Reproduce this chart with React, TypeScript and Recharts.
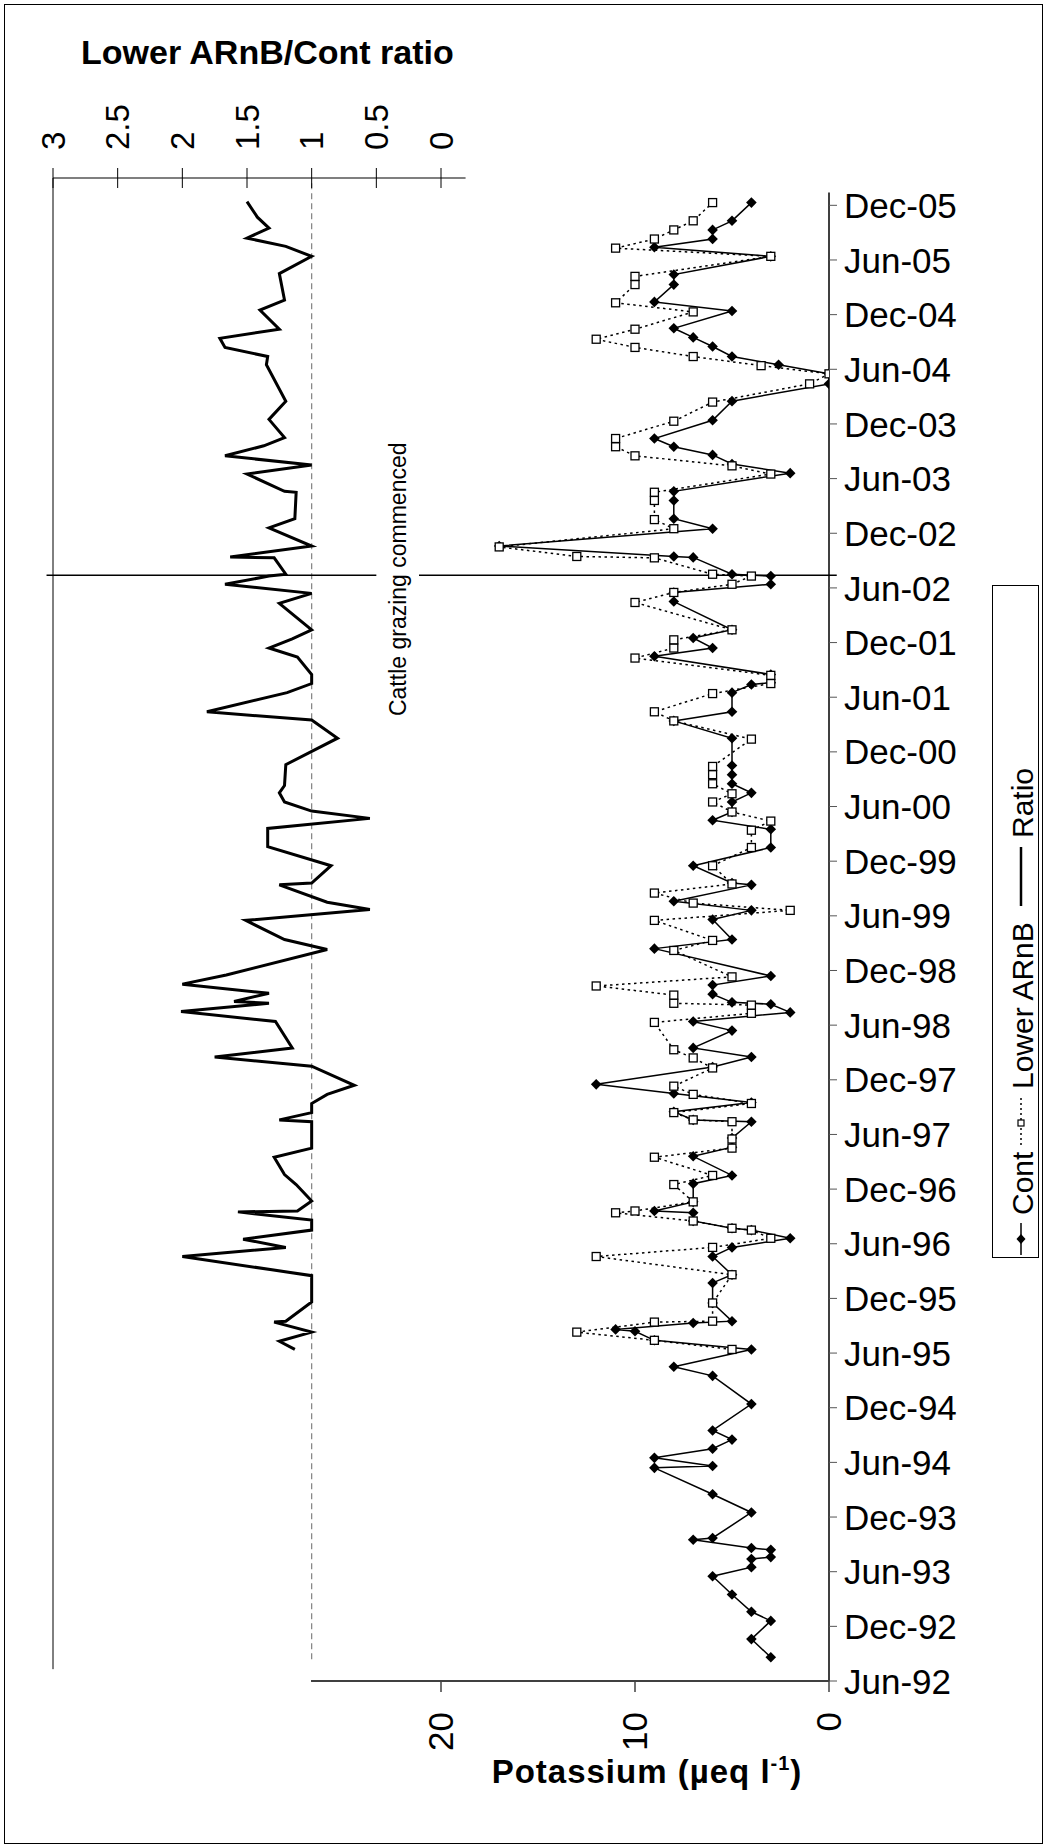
import React from 'react';
import {
  ComposedChart,
  Line,
  XAxis,
  YAxis,
  ReferenceLine,
  ReferenceDot,
  Legend,
  Label,
} from 'recharts';

const FONT = '"Liberation Sans", Arial, Helvetica, sans-serif';

// Time is counted in months after June 1992.
const timeTicks = [
  0, 6, 12, 18, 24, 30, 36, 42, 48, 54, 60, 66, 72, 78, 84, 90, 96, 102, 108, 114, 120, 126, 132, 138,
  144, 150, 156, 162,
];
const timeTickLabels = [
  'Jun-92', 'Dec-92', 'Jun-93', 'Dec-93', 'Jun-94', 'Dec-94', 'Jun-95', 'Dec-95', 'Jun-96', 'Dec-96',
  'Jun-97', 'Dec-97', 'Jun-98', 'Dec-98', 'Jun-99', 'Dec-99', 'Jun-00', 'Dec-00', 'Jun-01', 'Dec-01',
  'Jun-02', 'Dec-02', 'Jun-03', 'Dec-03', 'Jun-04', 'Dec-04', 'Jun-05', 'Dec-05',
];
const potassiumTicks = [0, 10, 20];
const ratioTicks = [3, 2.5, 2, 1.5, 1, 0.5, 0];

const legendNames = ['Cont', 'Lower ARnB', 'Ratio'];
const grazingMonth = 121.4;
const grazingText = 'Cattle grazing commenced';

type Pair = [number, number | null];

// Control site potassium (µeq/l): [month, value]
const cont: Pair[] = [
  [2.6, 3], [3.6, null], [4.6, 4], [6.6, 3], [7.6, 4], [9.5, 5], [11.5, 6], [12.5, 4], [13.4, 4],
  [13.6, 3], [14.4, 3], [14.6, 4], [15.5, 7], [15.7, 6], [18.5, 4], [20.5, 6], [23.4, 9], [23.6, 6],
  [24.5, 9], [25.5, 6], [26.5, 5], [27.5, 6], [30.4, 4], [33.5, 6], [34.5, 8], [36.4, 4], [37.4, 9],
  [38.4, 10], [38.6, 11], [39.3, 7], [39.5, 5], [41.5, 6], [43.7, 6], [44.6, 5], [46.6, 6], [47.6, 5],
  [48.6, 2], [49.5, 4], [49.7, 5], [50.5, 7], [51.4, 7], [51.6, 9], [52.6, 7], [54.6, 7], [55.5, 5],
  [57.6, 7], [58.6, 5], [59.6, 5], [61.4, 4], [61.6, 7], [62.5, 8], [63.5, 4], [64.5, 8], [65.5, 12],
  [67.4, 6], [68.5, 4], [69.5, 7], [71.4, 5], [72.4, 7], [73.4, 2], [74.3, 3], [74.5, 5], [75.4, 6],
  [76.4, 6], [77.4, 3], [80.4, 9], [81.4, 5], [83.6, 6], [84.6, 4], [85.6, 8], [87.4, 4], [87.6, 5],
  [89.5, 7], [91.5, 3], [93.5, 3], [94.5, 6], [95.4, 5], [96.5, 5], [97.5, 4], [98.5, 5], [99.5, 5],
  [100.5, 5], [103.5, 5], [105.4, 8], [106.4, 5], [108.5, 5], [109.4, 4], [109.6, 3], [110.5, 3],
  [112.5, 9], [113.4, 6], [114.5, 7], [115.4, 5], [118.5, 8], [119.5, 8], [120.4, 3], [121.3, 3],
  [121.5, 5], [123.35, 7], [123.45, 8], [124.6, 17], [126.5, 6], [127.6, 8], [129.6, 8], [130.6, 8],
  [132.6, 2], [133.6, 5], [134.6, 6], [135.5, 8], [136.4, 9], [138.4, 6], [140.5, 5], [142.4, 0],
  [143.5, 0], [144.5, 2.6], [145.4, 5], [146.5, 6], [147.5, 7], [148.5, 8], [150.4, 5], [151.4, 9],
  [153.3, 8], [154.4, 8], [156.4, 3], [157.4, 9], [158.3, 6], [159.3, 6], [160.3, 5], [162.3, 4],
];

// Lower ARnB site potassium (µeq/l): [month, value]
const lower: Pair[] = [
  [36.4, 5], [37.4, 9], [38.3, 13], [39.4, 9], [39.5, 6], [41.5, 6], [42.6, null], [44.6, 5],
  [46.6, 12], [47.6, 6], [48.6, 3], [49.5, 4], [49.7, 5], [50.5, 7], [51.4, 11], [51.6, 10], [52.6, 7],
  [54.5, 8], [55.5, 6], [57.5, 9], [58.5, 5], [59.5, 5], [61.4, 5], [61.6, 7], [62.4, 8], [63.4, 4],
  [64.4, 7], [65.3, 8], [67.3, 6], [68.4, 7], [69.3, 8], [70.8, null], [72.3, 9], [73.3, 4], [74.2, 4],
  [74.4, 8], [75.3, 8], [76.3, 12], [77.3, 5], [80.2, 8], [81.3, 6], [83.5, 9], [84.6, 2], [85.4, 7],
  [86.5, 9], [87.5, 5], [89.5, 6], [91.5, 4], [93.4, 4], [94.4, 3], [95.4, 5], [96.5, 6], [97.4, 5],
  [98.5, 6], [99.5, 6], [100.4, 6], [103.4, 4], [105.4, 8], [106.4, 9], [108.4, 6], [109.5, 3],
  [110.4, 3], [112.3, 10], [113.4, 8], [114.3, 8], [115.4, 5], [118.4, 10], [119.5, 8], [120.4, 5],
  [121.3, 4], [121.5, 6], [123.3, 9], [123.45, 13], [124.5, 17], [126.5, 8], [127.5, 9], [129.6, 9],
  [130.5, 9], [132.5, 3], [133.4, 5], [134.5, 10], [135.5, 11], [136.4, 11], [138.3, 8], [140.4, 6],
  [142.4, 1], [143.5, 0], [144.4, 3.5], [145.4, 7], [146.4, 10], [147.3, 12], [148.4, 10], [150.3, 7],
  [151.3, 11], [153.3, 10], [154.2, 10], [156.4, 3], [157.3, 11], [158.3, 9], [159.3, 8], [160.3, 7],
  [162.3, 6],
];

// Lower ARnB / Cont ratio: [month, ratio]
const ratio: Pair[] = [
  [36.4, 1.13], [37.3, 1.25], [38.3, 1.0], [38.9, null], [39.4, 1.29], [39.5, 1.2], [41.6, 1.0],
  [43.0, null], [44.5, 1.0], [46.6, 2.0], [47.6, 1.2], [48.5, 1.53], [49.5, 1.0], [50.6, 1.0],
  [51.5, 1.57], [51.6, 1.11], [52.7, 1.0], [54.5, 1.12], [55.6, 1.21], [57.5, 1.29], [58.5, 1.0],
  [59.5, 1.0], [61.4, 1.0], [61.6, 1.25], [62.4, 1.0], [63.4, 1.0], [64.4, 0.88], [65.4, 0.67],
  [67.5, 1.0], [68.5, 1.75], [69.5, 1.15], [70.9, null], [72.4, 1.28], [73.5, 2.01], [74.4, 1.33],
  [74.6, 1.6], [75.5, 1.33], [76.5, 2.0], [77.5, 1.66], [80.3, 0.88], [81.4, 1.21], [83.5, 1.51],
  [84.7, 0.55], [85.5, 0.88], [86.5, null], [87.4, 1.25], [87.6, 1.0], [89.5, 0.85], [91.6, 1.34],
  [93.6, 1.34], [94.7, 0.55], [95.5, 1.0], [96.5, 1.21], [97.5, 1.25], [98.3, 1.21], [100.6, 1.2],
  [103.5, 0.8], [105.5, 1.0], [106.4, 1.81], [108.5, 1.19], [109.5, 1.0], [110.5, 1.0], [112.4, 1.11],
  [113.4, 1.33], [114.4, 1.15], [115.4, 1.0], [118.3, 1.25], [119.4, 1.0], [120.4, 1.67], [121.3, 1.33],
  [121.5, 1.2], [123.3, 1.29], [123.4, 1.63], [124.6, 1.0], [126.6, 1.33], [127.6, 1.13], [130.5, 1.12],
  [130.6, 1.21], [132.5, 1.5], [133.5, 1.0], [134.5, 1.67], [135.6, 1.37], [136.5, 1.21], [138.5, 1.33],
  [140.5, 1.2], [142.5, null], [144.5, 1.35], [145.4, 1.34], [146.4, 1.67], [147.4, 1.71], [148.4, 1.25],
  [150.5, 1.4], [151.6, 1.21], [154.5, 1.25], [156.4, 1.0], [157.5, 1.2], [158.4, 1.5], [159.5, 1.33],
  [160.7, 1.42], [162.4, 1.5],
];

const toRows = (pairs: Pair[]) => pairs.map(([t, v]) => ({ t, v }));
const contRows = toRows(cont);
const lowerRows = toRows(lower);
const ratioRows = toRows(ratio);

const DiamondDot = (p: any) => {
  const { cx, cy, index, value } = p;
  if (cx == null || cy == null || value == null) return <g key={`cd${index}`} />;
  const h = 5.3;
  return (
    <path
      key={`cd${index}`}
      d={`M${cx},${cy - h}L${cx + h},${cy}L${cx},${cy + h}L${cx - h},${cy}Z`}
      fill="#000"
      stroke="none"
    />
  );
};

const SquareDot = (p: any) => {
  const { cx, cy, index, value } = p;
  if (cx == null || cy == null || value == null) return <g key={`ls${index}`} />;
  return (
    <rect
      key={`ls${index}`}
      x={cx - 4}
      y={cy - 4}
      width={8}
      height={8}
      fill="#fff"
      stroke="#000"
      strokeWidth={1.3}
    />
  );
};

const TimeTick = (p: any) => {
  const { x, y, payload } = p;
  const i = timeTicks.indexOf(payload.value);
  return (
    <text x={x} y={y} dy="0.36em" textAnchor="start" fontSize={35} fontFamily={FONT} fill="#000">
      {timeTickLabels[i]}
    </text>
  );
};

const PotassiumTick = (p: any) => {
  const { x, y, payload } = p;
  return (
    <text
      transform={`translate(${x},${y}) rotate(-90)`}
      textAnchor="end"
      dy="0.35em"
      fontSize={35}
      fontFamily={FONT}
      fill="#000"
    >
      {payload.value}
    </text>
  );
};

const RatioTick = (p: any) => {
  const { x, y, payload } = p;
  return (
    <g>
      <line x1={x} x2={x} y1={y - 10} y2={y + 10} stroke="#000" strokeWidth={1} />
      <text
        transform={`translate(${x},${y - 28}) rotate(-90)`}
        textAnchor="start"
        dy="0.35em"
        fontSize={33}
        fontFamily={FONT}
        fill="#000"
      >
        {payload.value}
      </text>
    </g>
  );
};

const RatioTitle = (p: any) => {
  const vb = p.viewBox || { x: 53, y: 78 };
  return (
    <text x={vb.x + 28} y={vb.y - 14} fontSize={34} fontWeight="bold" fontFamily={FONT} fill="#000">
      Lower ARnB/Cont ratio
    </text>
  );
};

const PotassiumTitle = (p: any) => {
  const vb = p.viewBox || { x: 53, y: 1681 };
  return (
    <text
      x={vb.x + 594}
      y={vb.y + 102}
      textAnchor="middle"
      fontSize={33}
      fontWeight="bold"
      fontFamily={FONT}
      letterSpacing={1}
      fill="#000"
    >
      Potassium (µeq l
      <tspan fontSize={20} dy={-13}>-1</tspan>
      <tspan dy={13}>)</tspan>
    </text>
  );
};

const GrazingText = (p: any) => (
  <text
    transform={`translate(${p.cx},${p.cy}) rotate(-90)`}
    textAnchor="middle"
    dy="0.35em"
    fontSize={23}
    fontFamily={FONT}
    fill="#000"
  >
    {grazingText}
  </text>
);

const LegendBox = () => {
  const cx = 29;
  const tx = 41;
  return (
    <svg width={47} height={673} style={{ display: 'block', overflow: 'visible' }}>
      <rect x={0.5} y={0.5} width={46} height={672} fill="#fff" stroke="#000" strokeWidth={1} />
      {/* Cont */}
      <line x1={cx} x2={cx} y1={638} y2={670} stroke="#000" strokeWidth={1.5} />
      <path d={`M${cx},${649}L${cx + 4.5},${654}L${cx},${659}L${cx - 4.5},${654}Z`} fill="#000" />
      <text transform={`translate(${tx},630) rotate(-90)`} fontSize={30} fontFamily={FONT} fill="#000">
        {legendNames[0]}
      </text>
      {/* Lower ARnB */}
      <line x1={cx} x2={cx} y1={513} y2={563} stroke="#000" strokeWidth={1.5} strokeDasharray="2 3" />
      <rect x={cx - 3} y={535} width={6} height={6} fill="#fff" stroke="#000" strokeWidth={1.2} />
      <text transform={`translate(${tx},504) rotate(-90)`} fontSize={30} fontFamily={FONT} fill="#000">
        {legendNames[1]}
      </text>
      {/* Ratio */}
      <line x1={cx} x2={cx} y1={262} y2={321} stroke="#000" strokeWidth={2.5} />
      <text transform={`translate(${tx},253) rotate(-90)`} fontSize={30} fontFamily={FONT} fill="#000">
        {legendNames[2]}
      </text>
    </svg>
  );
};

export default function App() {
  return (
    <div style={{ position: 'absolute', left: 0, top: 0, width: 1044, height: 1845, background: '#fff' }}>
      <ComposedChart
        width={1044}
        height={1845}
        layout="vertical"
        margin={{ top: 78, right: 15, bottom: 64, left: 53 }}
      >
        <YAxis
          yAxisId="t"
          dataKey="t"
          type="number"
          orientation="right"
          domain={[0, 165]}
          reversed
          allowDataOverflow
          ticks={timeTicks}
          interval={0}
          width={200}
          axisLine={false}
          tickLine={{ stroke: '#555', strokeWidth: 1 }}
          tickSize={8}
          tickMargin={7}
          tick={<TimeTick />}
        />
        <XAxis
          xAxisId="k"
          type="number"
          orientation="bottom"
          domain={[0, 40]}
          reversed
          allowDataOverflow
          ticks={potassiumTicks}
          interval={0}
          height={100}
          axisLine={false}
          tickLine={{ stroke: '#404040', strokeWidth: 1.5 }}
          tickSize={11}
          tickMargin={20}
          tick={<PotassiumTick />}
        >
          <Label content={<PotassiumTitle />} />
        </XAxis>
        <XAxis
          xAxisId="ratio"
          type="number"
          orientation="top"
          domain={[-3, 3]}
          reversed
          allowDataOverflow
          ticks={ratioTicks}
          interval={0}
          height={100}
          axisLine={false}
          tickLine={false}
          tickSize={0}
          tickMargin={0}
          tick={<RatioTick />}
        >
          <Label content={<RatioTitle />} />
        </XAxis>

        {/* axis lines and frame of the ratio panel */}
        <ReferenceLine xAxisId="k" yAxisId="t" segment={[{ x: 0, y: 0 }, { x: 0, y: 163.4 }]} stroke="#000" strokeWidth={1.5} ifOverflow="visible" />
        <ReferenceLine xAxisId="k" yAxisId="t" segment={[{ x: 0, y: 0 }, { x: 26.7, y: 0 }]} stroke="#404040" strokeWidth={2} ifOverflow="visible" />
        <ReferenceLine xAxisId="ratio" yAxisId="t" segment={[{ x: 3, y: 165 }, { x: -0.19, y: 165 }]} stroke="#000" strokeWidth={1.2} ifOverflow="visible" />
        <ReferenceLine xAxisId="ratio" yAxisId="t" segment={[{ x: 3, y: 1.3 }, { x: 3, y: 165 }]} stroke="#000" strokeWidth={1} ifOverflow="visible" />
        <ReferenceLine xAxisId="ratio" yAxisId="t" segment={[{ x: 1, y: 2.4 }, { x: 1, y: 165 }]} stroke="#808080" strokeWidth={1.2} strokeDasharray="6 4" ifOverflow="visible" />

        {/* start of cattle grazing */}
        <ReferenceLine xAxisId="ratio" yAxisId="t" segment={[{ x: 3.05, y: grazingMonth }, { x: 0.5, y: grazingMonth }]} stroke="#000" strokeWidth={1.5} ifOverflow="visible" />
        <ReferenceLine xAxisId="ratio" yAxisId="t" segment={[{ x: 0.17, y: grazingMonth }, { x: -3.06, y: grazingMonth }]} stroke="#000" strokeWidth={1.5} ifOverflow="visible" />
        <ReferenceDot xAxisId="ratio" yAxisId="t" x={0.33} y={120.95} r={0} ifOverflow="visible" shape={GrazingText} />

        <Line
          data={ratioRows}
          dataKey="v"
          name="Ratio"
          xAxisId="ratio"
          yAxisId="t"
          type="linear"
          stroke="#000"
          strokeWidth={3}
          dot={false}
          activeDot={false}
          connectNulls={false}
          isAnimationActive={false}
        />
        <Line
          data={contRows}
          dataKey="v"
          name="Cont"
          xAxisId="k"
          yAxisId="t"
          type="linear"
          stroke="#000"
          strokeWidth={1.5}
          dot={DiamondDot}
          activeDot={false}
          connectNulls={false}
          isAnimationActive={false}
        />
        <Line
          data={lowerRows}
          dataKey="v"
          name="Lower ARnB"
          xAxisId="k"
          yAxisId="t"
          type="linear"
          stroke="#000"
          strokeWidth={1.5}
          strokeDasharray="2.5 3.5"
          dot={SquareDot}
          activeDot={false}
          connectNulls={false}
          isAnimationActive={false}
        />

        <Legend
          layout="vertical"
          align="center"
          verticalAlign="middle"
          content={<LegendBox />}
          wrapperStyle={{ position: 'absolute', left: 992, top: 585, width: 47, height: 673 }}
        />
      </ComposedChart>
      <div
        style={{
          position: 'absolute',
          left: 4,
          top: 4,
          width: 1039,
          height: 1840,
          border: '1px solid #000',
          boxSizing: 'border-box',
          pointerEvents: 'none',
        }}
      />
    </div>
  );
}
